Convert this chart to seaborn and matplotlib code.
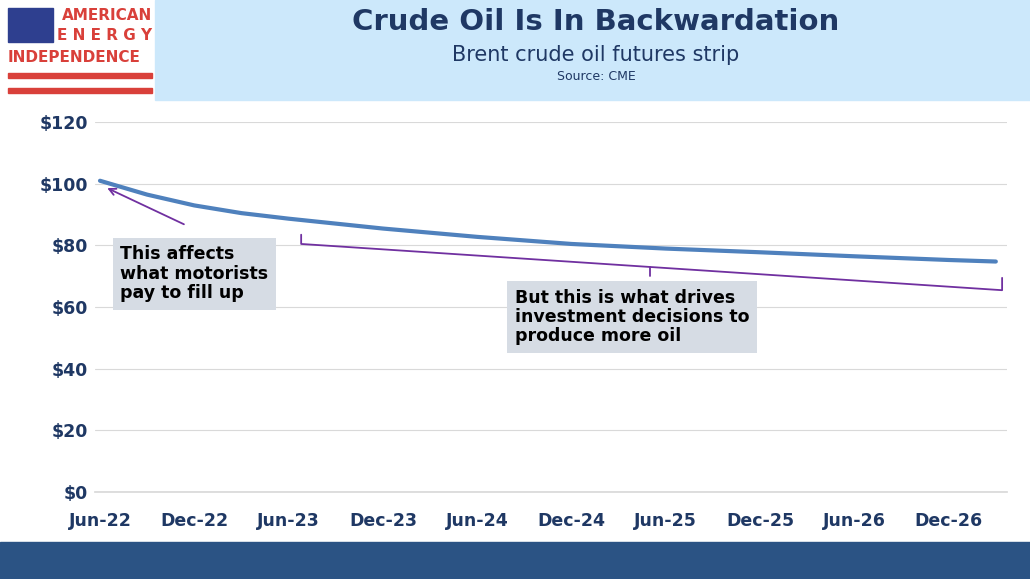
import matplotlib
matplotlib.use('Agg')
import matplotlib.pyplot as plt
import seaborn as sns
import pandas as pd
from matplotlib.patches import Rectangle

# months since Jun-22 and Brent futures price
months = [0, 3, 6, 9, 12, 18, 24, 30, 36, 42, 48, 54, 57]
prices = [101, 96.5, 93, 90.5, 88.7, 85.5, 82.8, 80.5, 79, 77.8, 76.5, 75.3, 74.8]
tick_months = [0, 6, 12, 18, 24, 30, 36, 42, 48, 54]
tick_labels = ['Jun-22', 'Dec-22', 'Jun-23', 'Dec-23', 'Jun-24', 'Dec-24',
               'Jun-25', 'Dec-25', 'Jun-26', 'Dec-26']
y_ticks = [0, 20, 40, 60, 80, 100, 120]

navy = '#1f3864'
purple = '#7030a0'
box = '#d6dce4'

sns.set_theme(style='white')
plt.rcParams['font.family'] = ['DejaVu Sans']

fig = plt.figure(figsize=(10.3, 5.79), dpi=100)
ax = fig.add_axes([0.0925, 0.150, 0.885, 0.639])

df = pd.DataFrame({'month': months, 'price': prices})
sns.lineplot(data=df, x='month', y='price', ax=ax, color='#4f81bd', linewidth=3)
ax.set_xlim(-0.3, 57.7)
ax.set_ylim(0, 120)
ax.set_xticks(tick_months)
ax.set_xticklabels(tick_labels)
ax.set_yticks(y_ticks)
ax.set_yticklabels([f'${v}' for v in y_ticks])
ax.tick_params(labelsize=12.5, colors=navy, length=0)
ax.tick_params(axis='x', pad=14)
ax.tick_params(axis='y', pad=5)
for lab in ax.get_xticklabels() + ax.get_yticklabels():
    lab.set_fontweight('bold')
ax.set_xlabel('')
ax.set_ylabel('')
ax.grid(axis='y', color='#d9d9d9', linewidth=0.8)
for s in ['top', 'right', 'left']:
    ax.spines[s].set_visible(False)
ax.spines['bottom'].set_color('#d9d9d9')

# bracket for the futures curve
ax.plot([12.8, 12.8, 57.4, 57.4], [83.5, 80.5, 65.5, 69.5], color=purple, lw=1.3, clip_on=False)
ax.plot([35, 35], [73.0, 70.0], color=purple, lw=1.3)
ax.annotate('', xy=(0.3, 99), xytext=(5.5, 86.5),
            arrowprops=dict(arrowstyle='->', color=purple, lw=1.3))

ax.text(1.3, 80, 'This affects\nwhat motorists\npay to fill up', fontsize=12.5, fontweight='bold',
        color='black', va='top', linespacing=1.1,
        bbox=dict(boxstyle='square,pad=0.45', fc=box, ec='none'))
ax.text(26.4, 66, 'But this is what drives\ninvestment decisions to\nproduce more oil', fontsize=12.5,
        fontweight='bold', color='black', va='top', linespacing=1.1,
        bbox=dict(boxstyle='square,pad=0.45', fc=box, ec='none'))

# header
fig.patches.append(Rectangle((155 / 1030, 1 - 100 / 579), 875 / 1030, 100 / 579,
                             transform=fig.transFigure, color='#cce8fb', zorder=0))
fig.text(596 / 1030, 1 - 22 / 579, 'Crude Oil Is In Backwardation', ha='center', va='center',
         fontsize=21, fontweight='bold', color=navy)
fig.text(596 / 1030, 1 - 55 / 579, 'Brent crude oil futures strip', ha='center', va='center',
         fontsize=15, color=navy)
fig.text(596 / 1030, 1 - 76 / 579, 'Source: CME', ha='center', va='center', fontsize=9, color=navy)

# logo
red = '#d9403a'
fig.patches.append(Rectangle((8 / 1030, 1 - 42 / 579), 45 / 1030, 34 / 579,
                             transform=fig.transFigure, color='#2e3f8f'))
fig.text(152 / 1030, 1 - 16 / 579, 'AMERICAN', ha='right', va='center', fontsize=11,
         fontweight='bold', color=red)
fig.text(152 / 1030, 1 - 36 / 579, 'E N E R G Y', ha='right', va='center', fontsize=11,
         fontweight='bold', color=red)
fig.text(8 / 1030, 1 - 57 / 579, 'INDEPENDENCE', ha='left', va='center', fontsize=11,
         fontweight='bold', color=red)
for yy in [74, 89]:
    fig.patches.append(Rectangle((8 / 1030, 1 - (yy + 4) / 579), 144 / 1030, 5 / 579,
                                 transform=fig.transFigure, color=red))

# footer band
fig.patches.append(Rectangle((0, 0), 1, 37 / 579, transform=fig.transFigure, color='#2b5384'))

fig.savefig('out.png', dpi=100)
